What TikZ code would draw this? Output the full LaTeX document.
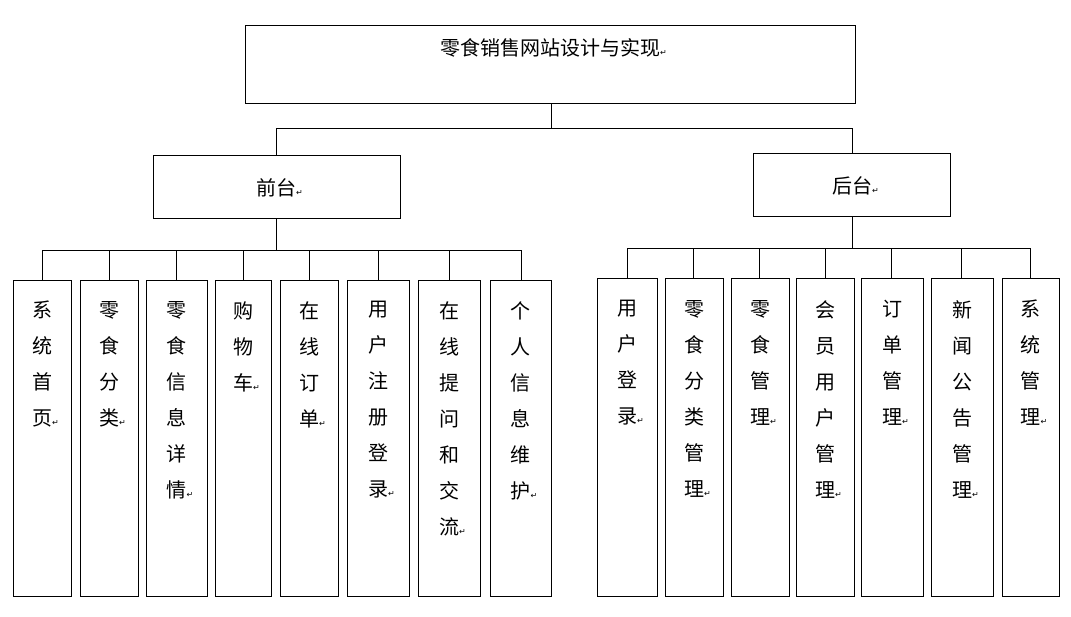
\documentclass[tikz,border=0pt]{standalone}
\usepackage{fontspec}
\newfontfamily\cjk{Noto Sans CJK SC}
\newfontfamily\dv{DejaVu Sans}
\newcommand{\rt}{\makebox[0pt][l]{\dv\fontsize{8}{8}\selectfont\raisebox{0pt}{↵}}}
\begin{document}
\begin{tikzpicture}[x=1pt,y=-1pt,
  box/.style={draw,line width=0.9pt},
  ln/.style={line width=0.9pt},
  vt/.style={anchor=north,font=\cjk\fontsize{20}{36}\selectfont,align=center,inner sep=0pt}]
\useasboundingbox (0,0) rectangle (1071,616);
\draw[box] (245,25) rectangle (855,103);
\node[font=\cjk\fontsize{20}{22}\selectfont] (root) at (550,48) {零食销售网站设计与实现\rt};
\coordinate (rb) at (551,103);
\draw[box] (153,155) rectangle (400,218);
\node[font=\cjk\fontsize{20}{22}\selectfont] (qt) at (276,188) {前台\rt};
\draw[box] (753,153) rectangle (950,216);
\node[font=\cjk\fontsize{20}{22}\selectfont] (ht) at (852,186) {后台\rt};
\draw[ln] (rb) -- (551,128) -- (276,128) -- (276,155);
\draw[ln] (551,128) -- (852,128) -- (852,153);
% left
\draw[ln] (276,218) -- (276,250);
\draw[ln] (42,250) -- (521,250);
\foreach \a/\b/\t [count=\i] in {13/71/{系\\统\\首\\页\rt},80/138/{零\\食\\分\\类\rt},146/207/{零\\食\\信\\息\\详\\情\rt},215/271/{购\\物\\车\rt},280/338/{在\\线\\订\\单\rt},347/409/{用\\户\\注\\册\\登\\录\rt},418/480/{在\\线\\提\\问\\和\\交\\流\rt},490/551/{个\\人\\信\\息\\维\\护\rt}}{
  \pgfmathsetmacro{\c}{(\a+\b)/2}
  \draw[box] (\a,280) rectangle (\b,596);
  \node[vt] (L\i) at (\c,301) {\t};
}
\foreach \x in {42,109,176,243,309,378,449,521}{\draw[ln] (\x,250) -- (\x,280);}
% right
\draw[ln] (852,216) -- (852,248);
\draw[ln] (627,248) -- (1030,248);
\foreach \a/\b/\t [count=\i] in {597/657/{用\\户\\登\\录\rt},665/723/{零\\食\\分\\类\\管\\理\rt},731/789/{零\\食\\管\\理\rt},796/854/{会\\员\\用\\户\\管\\理\rt},861/923/{订\\单\\管\\理\rt},931/993/{新\\闻\\公\\告\\管\\理\rt},1002/1059/{系\\统\\管\\理\rt}}{
  \pgfmathsetmacro{\c}{(\a+\b)/2}
  \draw[box] (\a,278) rectangle (\b,596);
  \node[vt] (R\i) at (\c,300) {\t};
}
\foreach \x in {627,693,759,825,891,961,1030}{\draw[ln] (\x,248) -- (\x,278);}
\end{tikzpicture}
\end{document}
